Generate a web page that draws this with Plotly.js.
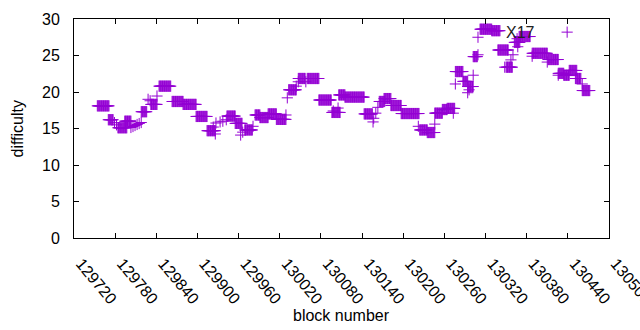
<!DOCTYPE html>
<html>
<head>
<meta charset="utf-8">
<script src="https://cdn.plot.ly/plotly-3.0.1.min.js"></script>
<style>html,body{margin:0;padding:0;background:#fff;}#chart{width:640px;height:330px;}</style>
</head>
<body>
<div id="chart"></div>
<script>
// Runs of consecutive blocks that share one difficulty value
const runStart = [129754,129770,129784,129794,129818,129832,129844,129863,129879,129898,129914,129943,129955,129969,129984,129991,130003,130015,130033,130047,130060,130077,130096,130106,130115,130143,130165,130172,130182,130197,130224,130235,130246,130257,130264,130276,130287,130294,130302,130312,130329,130338,130350,130362,130369,130388,130411,130426,130434,130442,130451,130461];
const runEnd   = [129771,129777,129797,129803,129826,129841,129861,129879,129898,129914,129926,129955,129965,129980,129991,130003,130015,130029,130044,130057,130077,130095,130108,130115,130143,130155,130173,130182,130197,130223,130235,130246,130257,130264,130275,130287,130294,130302,130308,130329,130341,130353,130359,130370,130385,130410,130426,130434,130442,130453,130459,130472];
const runValue = [18.1,16.2,15.1,16.0,17.3,18.3,20.8,18.7,18.3,16.65,14.7,16.7,15.7,14.8,16.85,16.5,17.0,16.25,20.3,21.85,21.85,18.9,17.2,19.6,19.3,17.0,18.7,19.1,18.15,17.05,14.8,14.45,17.1,17.6,17.75,22.8,21.45,20.75,24.85,28.6,28.4,25.75,23.4,26.8,27.6,25.3,24.45,22.55,22.3,22.95,21.85,20.2];

// Individual blocks
const singleBlock = [129779,129782,129803,129806,129809,129812,129815,129818,129828,129831,129841,129923,129926,129927,129933,129937,129942,129963,129966,129981,130029,130031,130044,130047,130058,130098,130105,130156,130157,130160,130163,130222,130246,130273,130276,130294,130296,130302,130309,130309,130348,130357,130360,130366,130367,130388,130410,130426,130439,130461];
const singleValue = [15.8,15.5,15.14,15.27,15.41,15.55,15.68,15.82,19.0,18.8,19.45,15.2,14.25,15.75,15.9,16.0,16.2,14.1,14.5,15.3,16.85,19.2,20.8,21.4,21.4,17.4,17.8,15.9,16.4,17.1,17.9,15.3,15.6,17.1,21.1,19.9,20.3,22.3,25.1,27.5,23.4,24.4,25.1,27.3,26.2,24.9,24.1,22.3,28.2,21.1];

const xTickVals = [129720,129780,129840,129900,129960,130020,130080,130140,130200,130260,130320,130380,130440,130500];
const yTickVals = [0,5,10,15,20,25,30];
const xTitle = "block number";
const yTitle = "difficulty";
const labelText = "X17";
const labelBlock = 130347;
const labelValue = 28.2;

const xs = [], ys = [];
for (let i = 0; i < runStart.length; i++) {
  for (let b = runStart[i]; b <= runEnd[i]; b++) { xs.push(b); ys.push(runValue[i]); }
}
for (let i = 0; i < singleBlock.length; i++) { xs.push(singleBlock[i]); ys.push(singleValue[i]); }

const FAM = "Liberation Sans, Arial, sans-serif";
const font = {family: FAM, size: 16, color: "#000"};
const axisCommon = {
  showline: true, linecolor: "#000", linewidth: 1, mirror: "allticks",
  ticks: "inside", ticklen: 5, tickcolor: "#000", tickwidth: 1,
  showgrid: false, zeroline: false, tickfont: font, fixedrange: true, automargin: false,
  ticklabeloverflow: "allow"
};

const trace = {
  x: xs, y: ys, type: "scatter", mode: "markers",
  marker: {symbol: "cross-thin", size: 8, color: "#9400d3", line: {color: "#9400d3", width: 1}},
  hoverinfo: "skip", showlegend: false
};

const layout = {
  width: 640, height: 330,
  margin: {l: 74, r: 31, t: 19, b: 92},
  paper_bgcolor: "#fff", plot_bgcolor: "#fff",
  font: font,
  xaxis: Object.assign({}, axisCommon, {
    range: [129720, 130500.01], tickvals: xTickVals, ticktext: xTickVals.map(String),
    tickangle: 50, ticklabelstandoff: 9, ticklabelshift: 7
  }),
  yaxis: Object.assign({}, axisCommon, {
    range: [0, 30], tickvals: yTickVals, ticktext: yTickVals.map(String),
    ticklabelstandoff: 10
  }),
  annotations: [
    {x: labelBlock, y: labelValue, xref: "x", yref: "y", text: labelText,
     showarrow: false, xanchor: "left", yanchor: "middle",
     font: {family: FAM, size: 16, color: "#222"}},
    {x: 0.5, y: -0.3516, xref: "paper", yref: "paper", text: xTitle,
     showarrow: false, xanchor: "center", yanchor: "middle", font: font},
    {x: -0.1065, y: 0.5, xref: "paper", yref: "paper", text: yTitle, textangle: -90,
     showarrow: false, xanchor: "center", yanchor: "middle", font: font}
  ]
};

Plotly.newPlot("chart", [trace], layout, {displayModeBar: false, staticPlot: true});
</script>
</body>
</html>
